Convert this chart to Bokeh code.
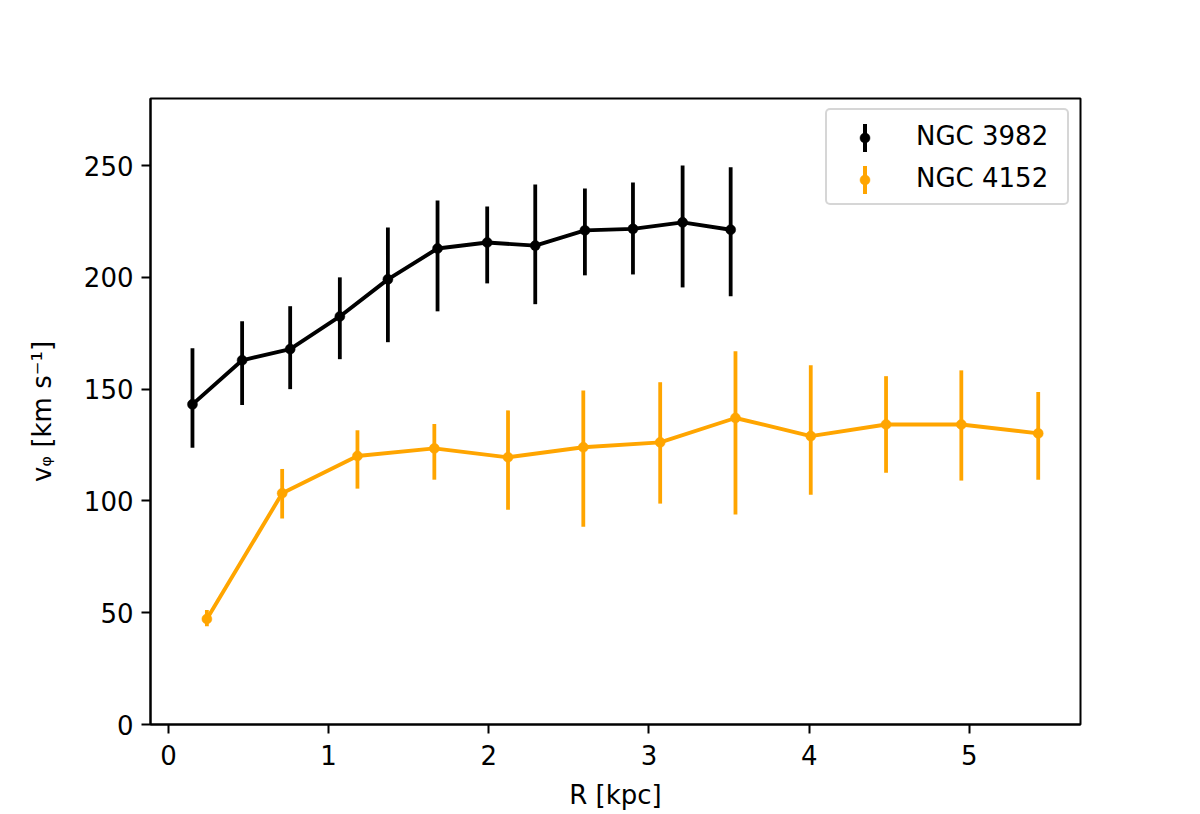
from bokeh.plotting import figure
from bokeh.models import ColumnDataSource, Range1d, FixedTicker, Legend, LegendItem
from bokeh.embed import file_html
from bokeh.resources import INLINE

# ---- data ----
R_3982 = [0.15, 0.46, 0.76, 1.07, 1.37, 1.68, 1.99, 2.29, 2.60, 2.90, 3.21, 3.51]
v_3982 = [143.2, 162.9, 167.9, 182.5, 199.1, 212.9, 215.6, 214.2, 221.0, 221.7, 224.6, 221.3]
errlo_3982 = [19.4, 20.0, 17.9, 19.1, 28.1, 28.1, 18.3, 26.2, 20.1, 20.4, 29.1, 29.8]
errhi_3982 = [25.1, 17.5, 19.2, 17.5, 23.2, 21.5, 16.1, 27.3, 18.7, 20.7, 25.4, 27.9]

R_4152 = [0.24, 0.71, 1.18, 1.66, 2.12, 2.59, 3.07, 3.54, 4.01, 4.48, 4.95, 5.43]
v_4152 = [47.2, 103.4, 120.1, 123.5, 119.5, 124.0, 126.2, 137.1, 129.0, 134.2, 134.2, 130.2]
errlo_4152 = [3.3, 11.3, 14.6, 14.0, 23.4, 35.5, 27.4, 43.2, 26.2, 21.6, 25.1, 20.7]
errhi_4152 = [4.0, 10.9, 11.5, 10.9, 21.0, 25.4, 26.9, 29.9, 31.7, 21.6, 24.2, 18.5]

labels = ["NGC 3982", "NGC 4152"]
colors = ["black", "#ffa500"]
x_ticks = [0, 1, 2, 3, 4, 5]
y_ticks = [0, 50, 100, 150, 200, 250]
x_label = "R [kpc]"
y_label = "v\u1d69 [km s\u207b\u00b9]"

FONT = "DejaVu Sans"
FS = "26px"

p = figure(frame_width=930, frame_height=626,
           x_range=Range1d(-0.112, 5.694), y_range=Range1d(0, 280),
           output_backend="svg", toolbar_location=None,
           min_border_left=150, min_border_right=120,
           min_border_top=98, min_border_bottom=90)
p.background_fill_color = "white"
p.border_fill_color = "white"
p.outline_line_color = "black"
p.outline_line_width = 2
p.xgrid.visible = False
p.ygrid.visible = False

series = [
    (R_3982, v_3982, errlo_3982, errhi_3982),
    (R_4152, v_4152, errlo_4152, errhi_4152),
]

bar_rs, dot_rs, dummy_rs = [], [], []
for (R, v, elo, ehi), col in zip(series, colors):
    src = ColumnDataSource(dict(
        x=R, y=v,
        lo=[a - b for a, b in zip(v, elo)],
        hi=[a + b for a, b in zip(v, ehi)],
    ))
    p.segment(x0="x", y0="lo", x1="x", y1="hi", source=src,
              line_color=col, line_width=3.8)
    p.line(x="x", y="y", source=src, line_color=col, line_width=3.9)
    dot = p.scatter(x="x", y="y", source=src, size=10, marker="circle",
                    fill_color=col, line_color=col, line_width=0.5)
    dot_rs.append(dot)
    # zero-area quad: invisible in the plot, used only for the legend's error-bar glyph
    bar_rs.append(p.quad(left=R[:1], right=R[:1], top=v[:1], bottom=v[:1],
                         fill_color=col, line_color=None))
    dummy_rs.append(p.scatter(x=R[:1], y=v[:1], alpha=0))

for ax in (p.xaxis[0], p.yaxis[0]):
    ax.major_label_text_font = FONT
    ax.major_label_text_font_size = FS
    ax.major_label_text_color = "black"
    ax.axis_label_text_font = FONT
    ax.axis_label_text_font_size = FS
    ax.axis_label_text_font_style = "normal"
    ax.axis_label_text_color = "black"
    ax.axis_line_color = "black"
    ax.axis_line_width = 2
    ax.major_tick_line_color = "black"
    ax.major_tick_line_width = 2
    ax.major_tick_out = 9
    ax.major_tick_in = 0
    ax.minor_tick_out = 0
    ax.minor_tick_in = 0

p.xaxis[0].ticker = FixedTicker(ticks=x_ticks)
p.yaxis[0].ticker = FixedTicker(ticks=y_ticks)
p.xaxis[0].axis_label = x_label
p.yaxis[0].axis_label = y_label
p.xaxis[0].major_label_standoff = 11
p.yaxis[0].major_label_standoff = 8
p.xaxis[0].axis_label_standoff = 12
p.yaxis[0].axis_label_standoff = 24

LX, LY = 675, 519
common = dict(padding=8, spacing=7, glyph_height=35, margin=0,
              label_text_font=FONT, label_text_font_size=FS)

legA = Legend(items=[LegendItem(label=l, renderers=[r]) for l, r in zip(labels, dummy_rs)],
              location=(LX, LY), glyph_width=58, label_standoff=23, label_width=143,
              border_line_color="#cccccc", border_line_width=2, border_line_alpha=0.8,
              background_fill_color="white", background_fill_alpha=0.8,
              label_text_color="black", **common)
if "border_radius" in Legend.properties():
    legA.border_radius = 5
legB = Legend(items=[LegendItem(label=" ", renderers=[r]) for r in bar_rs],
              location=(LX + 39 - 8 - 2.5, LY), glyph_width=5, label_standoff=0,
              border_line_alpha=0, background_fill_alpha=0, label_text_alpha=0, **common)
legC = Legend(items=[LegendItem(label=" ", renderers=[r]) for r in dot_rs],
              location=(LX + 39 - 8 - 12.5, LY), glyph_width=25, label_standoff=0,
              border_line_alpha=0, background_fill_alpha=0, label_text_alpha=0, **common)
p.add_layout(legA)
p.add_layout(legB)
p.add_layout(legC)

open("out.html", "w").write(file_html(p, INLINE))
